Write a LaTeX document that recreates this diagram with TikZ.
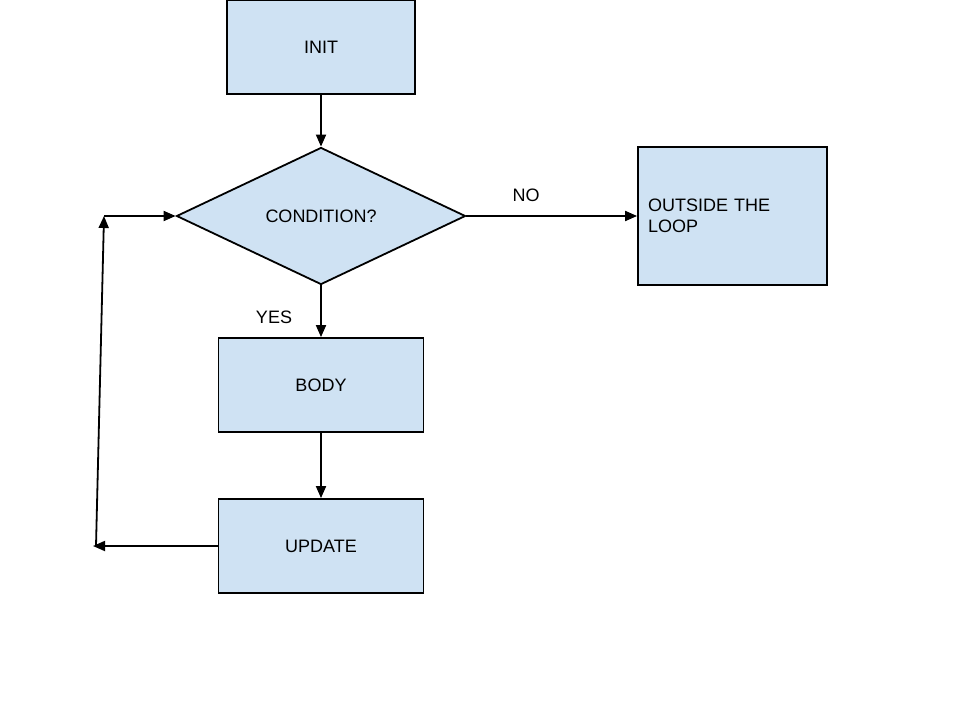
\documentclass[tikz,border=0pt]{standalone}
\usepackage{fontspec}
\setmainfont{Liberation Sans}
\usetikzlibrary{positioning,shapes.geometric,arrows.meta}
\definecolor{boxblue}{HTML}{CFE2F3}
\tikzset{
  stepbox/.style={draw, fill=boxblue, line width=1.8pt, inner sep=0pt,
    font=\fontsize{18}{21}\selectfont},
  decision/.style={stepbox, diamond, aspect=2.1},
  arr/.style={line width=1.8pt, -{Triangle[length=12pt,width=10pt]}},
  lbl/.style={font=\fontsize{18}{21}\selectfont},
}
\begin{document}
\begin{tikzpicture}[x=1pt, y=-1pt]%
\useasboundingbox (0,0) rectangle (960,720);
\node [stepbox, minimum width=188pt, minimum height=94pt] (init) at (321,47) {INIT};%
\node [decision, minimum width=289pt, minimum height=137pt] (cond) at (321,216) {CONDITION?};%
\node [stepbox, minimum width=189pt, minimum height=138pt, text width=169pt,
  align=left, inner sep=10pt] (outside) at (732.5,216) {OUTSIDE THE\\LOOP};%
\node [stepbox, minimum width=205pt, minimum height=94pt] (body) at (321,385) {BODY};%
\node [stepbox, minimum width=205pt, minimum height=94pt] (update) at (321,546) {UPDATE};%
\coordinate (loopbottom) at (93,546);
\coordinate (looptop) at (104,216);
% loop arrows
\draw [arr] (init) -- (cond);
\draw [arr] (cond) -- (body) node [pos=0.62, xshift=-47pt, lbl] (yes) {YES};
\draw [arr] (body) -- (update);
\draw [arr] (cond) -- (outside) node [pos=0.35, yshift=21pt, lbl] (no) {NO};
\draw [arr] (update) -- (loopbottom);
\draw [arr] ([xshift=3pt]loopbottom) -- (looptop);
\draw [arr] (looptop) -- (cond);
\end{tikzpicture}
\end{document}
